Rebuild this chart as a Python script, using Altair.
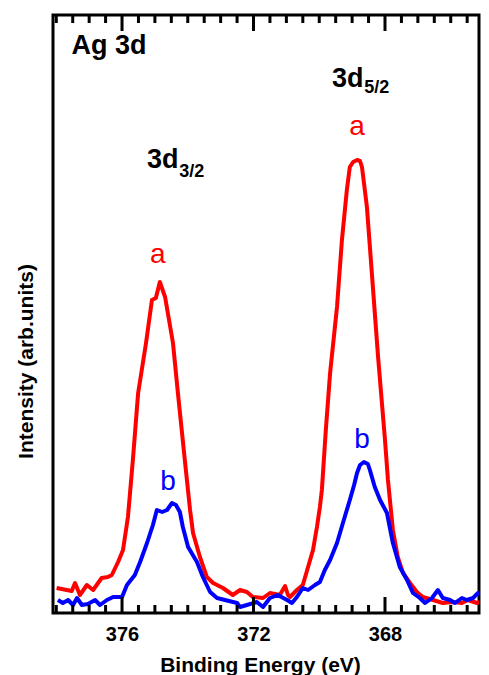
import altair as alt
import pandas as pd

# ---- data ----
red_energy = [377.99, 377.53, 377.43, 377.28, 377.07, 376.88, 376.62, 376.43, 376.31, 376.12,
              375.97, 375.82, 375.67, 375.51, 375.27, 375.09, 374.97, 374.85, 374.69, 374.45,
              374.30, 374.09, 373.93, 373.84, 373.63, 373.42, 373.23, 372.93, 372.63, 372.41,
              372.20, 372.02, 371.71, 371.50, 371.20, 371.04, 370.95, 370.89, 370.68, 370.50,
              370.34, 370.19, 370.07, 369.98, 369.92, 369.80, 369.67, 369.46, 369.31, 369.16,
              369.07, 368.97, 368.85, 368.76, 368.70, 368.55, 368.40, 368.21, 368.00, 367.91,
              367.85, 367.76, 367.61, 367.45, 367.24, 367.03, 366.85, 366.54, 366.24, 365.93,
              365.66, 365.48, 365.20, 364.96]
red_intensity = [25, 22, 30, 18, 28, 23, 35, 36, 38, 51,
                 63, 96, 153, 220, 270, 313, 315, 331, 316, 270,
                 220, 153, 103, 80, 56, 36, 30, 25, 18, 23,
                 21, 16, 15, 20, 18, 27, 18, 16, 23, 28,
                 46, 63, 86, 106, 123, 183, 240, 306, 373, 423,
                 446, 451, 453, 452, 446, 406, 340, 256, 173, 133,
                 113, 83, 56, 40, 30, 21, 16, 13, 10, 11,
                 10, 13, 10, 13]

blue_energy = [377.95, 377.80, 377.64, 377.49, 377.37, 377.22, 377.04, 376.82, 376.67, 376.46,
               376.27, 376.00, 375.85, 375.61, 375.45, 375.24, 375.06, 374.94, 374.78, 374.63,
               374.48, 374.36, 374.24, 374.15, 373.99, 373.72, 373.54, 373.32, 373.11, 372.87,
               372.50, 372.41, 372.20, 371.90, 371.71, 371.50, 371.26, 370.98, 370.83, 370.68,
               370.50, 370.34, 370.13, 369.98, 369.83, 369.67, 369.46, 369.28, 369.07, 368.94,
               368.85, 368.76, 368.64, 368.52, 368.46, 368.31, 368.15, 367.94, 367.76, 367.55,
               367.33, 367.15, 366.94, 366.78, 366.57, 366.39, 366.24, 366.02, 365.87, 365.66,
               365.51, 365.32, 365.17, 364.96]
blue_intensity = [13, 10, 13, 8, 15, 8, 9, 13, 8, 13,
                  16, 16, 28, 38, 51, 70, 88, 103, 101, 103,
                  110, 108, 101, 86, 66, 51, 36, 21, 15, 13,
                  10, 6, 8, 11, 6, 15, 18, 13, 10, 16,
                  25, 23, 28, 31, 43, 53, 70, 90, 113, 128,
                  140, 148, 151, 149, 143, 126, 113, 100, 70, 46,
                  33, 20, 15, 10, 15, 23, 15, 13, 10, 15,
                  13, 15, 20, 16]

major_ticks = [376, 372, 368]
minor_ticks = [365.5, 366.0, 366.5, 367.0, 367.5, 368.5, 369.0, 369.5, 370.0,
               370.5, 371.0, 371.5, 372.5, 373.0, 373.5, 374.0, 374.5, 375.0, 375.5,
               376.5, 377.0, 377.5, 378.0]

# annotations (text, energy, intensity)
title_text = ["Ag 3d", "3d", "3d"]
title_energy = [377.54, 369.61, 375.24]
title_intensity = [559, 526, 445]
sub_text = ["5/2", "3/2"]
sub_energy = [368.63, 374.26]
sub_intensity = [520, 436]
red_lbl_energy = [374.91, 368.85]
red_lbl_intensity = [350, 478]
blue_lbl_energy = [374.60, 368.70]
blue_lbl_intensity = [123, 165]

W, H = 426, 598
FONT = "Liberation Sans"

x_scale = alt.Scale(domain=[378.1, 365.14], nice=False, zero=False)
y_scale = alt.Scale(domain=[0, 598], nice=False, zero=False)

spectra = pd.concat([
    pd.DataFrame({"energy": red_energy, "intensity": red_intensity, "sample": "a"}),
    pd.DataFrame({"energy": blue_energy, "intensity": blue_intensity, "sample": "b"}),
])

lines = alt.Chart(spectra).mark_line(strokeWidth=4, strokeJoin="round", clip=True).encode(
    x=alt.X("energy:Q", scale=x_scale,
            axis=alt.Axis(values=major_ticks, ticks=False, domain=False, grid=False,
                          format="d", labelFont=FONT, labelFontSize=20, labelFontWeight="bold",
                          labelColor="black", labelPadding=11,
                          title="Binding Energy (eV)", titleFont=FONT, titleFontSize=21,
                          titleFontWeight="bold", titleColor="black",
                          titleX=207, titleY=58, titleBaseline="alphabetic", titleAlign="center")),
    y=alt.Y("intensity:Q", scale=y_scale,
            axis=alt.Axis(labels=False, ticks=False, domain=False, grid=False,
                          title="Intensity (arb.units)", titleFont=FONT, titleFontSize=21,
                          titleFontWeight="bold", titleColor="black", titleAngle=270,
                          titleX=-21, titleY=346, titleBaseline="alphabetic",
                          titleAlign="center")),
    color=alt.Color("sample:N", scale=alt.Scale(domain=["a", "b"], range=["#ff0000", "#0000ff"]),
                    legend=None),
)

minor_df = pd.DataFrame({"energy": minor_ticks})
major_df = pd.DataFrame({"energy": major_ticks})

def tick_layer(df, length):
    top = alt.Chart(df).mark_rule(color="black", strokeWidth=3).encode(
        x=alt.X("energy:Q", scale=x_scale), y=alt.value(0), y2=alt.value(length))
    bot = alt.Chart(df).mark_rule(color="black", strokeWidth=3).encode(
        x=alt.X("energy:Q", scale=x_scale), y=alt.value(H), y2=alt.value(H - length))
    return top + bot

ticks = tick_layer(minor_df, 8) + tick_layer(major_df, 16)

titles = alt.Chart(pd.DataFrame({"energy": title_energy, "intensity": title_intensity,
                                 "t": title_text})).mark_text(
    font=FONT, fontSize=27, fontWeight="bold", color="black", align="left",
    baseline="alphabetic").encode(
    x=alt.X("energy:Q", scale=x_scale), y=alt.Y("intensity:Q", scale=y_scale), text="t:N")

subs = alt.Chart(pd.DataFrame({"energy": sub_energy, "intensity": sub_intensity,
                               "t": sub_text})).mark_text(
    font=FONT, fontSize=18, fontWeight="bold", color="black", align="left",
    baseline="alphabetic").encode(
    x=alt.X("energy:Q", scale=x_scale), y=alt.Y("intensity:Q", scale=y_scale), text="t:N")

red_lbl = alt.Chart(pd.DataFrame({"energy": red_lbl_energy, "intensity": red_lbl_intensity,
                                  "t": ["a", "a"]})).mark_text(
    font=FONT, fontSize=28, color="#ff0000", align="center", baseline="alphabetic").encode(
    x=alt.X("energy:Q", scale=x_scale), y=alt.Y("intensity:Q", scale=y_scale), text="t:N")

blue_lbl = alt.Chart(pd.DataFrame({"energy": blue_lbl_energy, "intensity": blue_lbl_intensity,
                                   "t": ["b", "b"]})).mark_text(
    font=FONT, fontSize=28, color="#0000ff", align="center", baseline="alphabetic").encode(
    x=alt.X("energy:Q", scale=x_scale), y=alt.Y("intensity:Q", scale=y_scale), text="t:N")

chart = alt.layer(lines, ticks, titles, subs, red_lbl, blue_lbl).properties(
    width=W, height=H,
    autosize=alt.AutoSizeParams(type="none"),
    padding={"left": 45, "top": 7, "right": 2, "bottom": 62},
).configure_view(stroke="black", strokeWidth=3)

chart.save("out.html", embed_options={"renderer": "svg", "actions": False})
